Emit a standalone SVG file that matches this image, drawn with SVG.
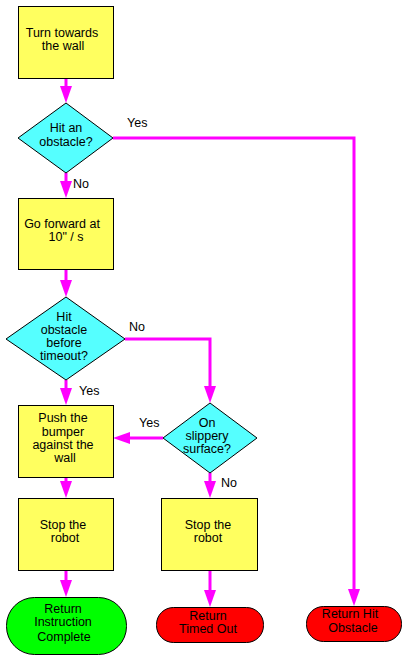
<svg xmlns="http://www.w3.org/2000/svg" width="407" height="660" viewBox="0 0 407 660">
<style>
.proc{fill:#FFFF5F;stroke:#000;stroke-width:1}
.dec{fill:#55FFFF;stroke:#000;stroke-width:1}
.ok{fill:#00FF00;stroke:#000;stroke-width:1}
.bad{fill:#FF0000;stroke:#000;stroke-width:1}
text{font-family:"Liberation Sans",Arial,sans-serif;font-size:12.5px;fill:#000;text-anchor:middle}
.lbl{text-anchor:start}
.conn{fill:none;stroke:#FF00FF;stroke-width:3;marker-end:url(#ah)}
</style>
<defs>
<marker id="ah" markerUnits="userSpaceOnUse" markerWidth="17" markerHeight="12" refX="9" refY="6" orient="auto" viewBox="0 0 17 12">
<path d="M0,0 L17,6 L0,12 z" fill="#FF00FF"/>
</marker>
</defs>
<rect width="407" height="660" fill="#fff"/>
<g id="connectors">
<path class="conn" d="M66,78 V95"/>
<path class="conn" d="M66,173 V190"/>
<path class="conn" d="M66,269 V289"/>
<path class="conn" d="M66,380 V397"/>
<path class="conn" d="M66,477 V490"/>
<path class="conn" d="M66,570 V589"/>
<path class="conn" d="M125,339 H210 V395"/>
<path class="conn" d="M163,438 H121"/>
<path class="conn" d="M210,473 V490"/>
<path class="conn" d="M210,570 V599"/>
<path class="conn" d="M113,138 H354 V598"/>
</g>
<g id="labels">
<text class="lbl" x="127" y="127">Yes</text>
<text class="lbl" x="73" y="188">No</text>
<text class="lbl" x="129" y="331">No</text>
<text class="lbl" x="79" y="395">Yes</text>
<text class="lbl" x="139" y="427">Yes</text>
<text class="lbl" x="221" y="487">No</text>
</g>
<g id="turn">
<rect class="proc" x="18.5" y="6.5" width="95" height="72"/>
<text x="62" y="37">Turn towards</text>
<text x="63" y="50">the wall</text>
</g>
<g id="hit1">
<polygon class="dec" points="66,103 113,138 66,173 18,138"/>
<text x="66" y="132">Hit an</text>
<text x="66" y="146">obstacle?</text>
</g>
<g id="forward">
<rect class="proc" x="18.5" y="198.5" width="95" height="71"/>
<text x="62" y="228">Go forward at</text>
<text x="66" y="241">10" / s</text>
</g>
<g id="hit2">
<polygon class="dec" points="66,297 125,339 66,380 6,339"/>
<text x="64" y="321">Hit</text>
<text x="64" y="334">obstacle</text>
<text x="64" y="347">before</text>
<text x="64" y="360">timeout?</text>
</g>
<g id="push">
<rect class="proc" x="18.5" y="405.5" width="95" height="72"/>
<text x="63" y="422">Push the</text>
<text x="63" y="436">bumper</text>
<text x="63" y="449">against the</text>
<text x="65" y="462">wall</text>
</g>
<g id="slippery">
<polygon class="dec" points="210,403 257,438 210,473 163,438"/>
<text x="207" y="427">On</text>
<text x="207" y="440">slippery</text>
<text x="207" y="453">surface?</text>
</g>
<g id="stop1">
<rect class="proc" x="18.5" y="498.5" width="95" height="72"/>
<text x="63" y="529">Stop the</text>
<text x="65" y="542">robot</text>
</g>
<g id="stop2">
<rect class="proc" x="161.5" y="498.5" width="96" height="72"/>
<text x="208" y="529">Stop the</text>
<text x="208" y="542">robot</text>
</g>
<g id="complete">
<rect class="ok" x="6.5" y="597.5" width="120" height="57" rx="28" ry="28"/>
<text x="63" y="613">Return</text>
<text x="63" y="626">Instruction</text>
<text x="64" y="641">Complete</text>
</g>
<g id="timedout">
<rect class="bad" x="156.5" y="607.5" width="107" height="35" rx="17" ry="17"/>
<text x="208" y="620">Return</text>
<text x="208" y="633">Timed Out</text>
</g>
<g id="hitobstacle">
<rect class="bad" x="306.5" y="606.5" width="95" height="35" rx="17" ry="17"/>
<text x="350" y="618">Return Hit</text>
<text x="353" y="632">Obstacle</text>
</g>
</svg>
